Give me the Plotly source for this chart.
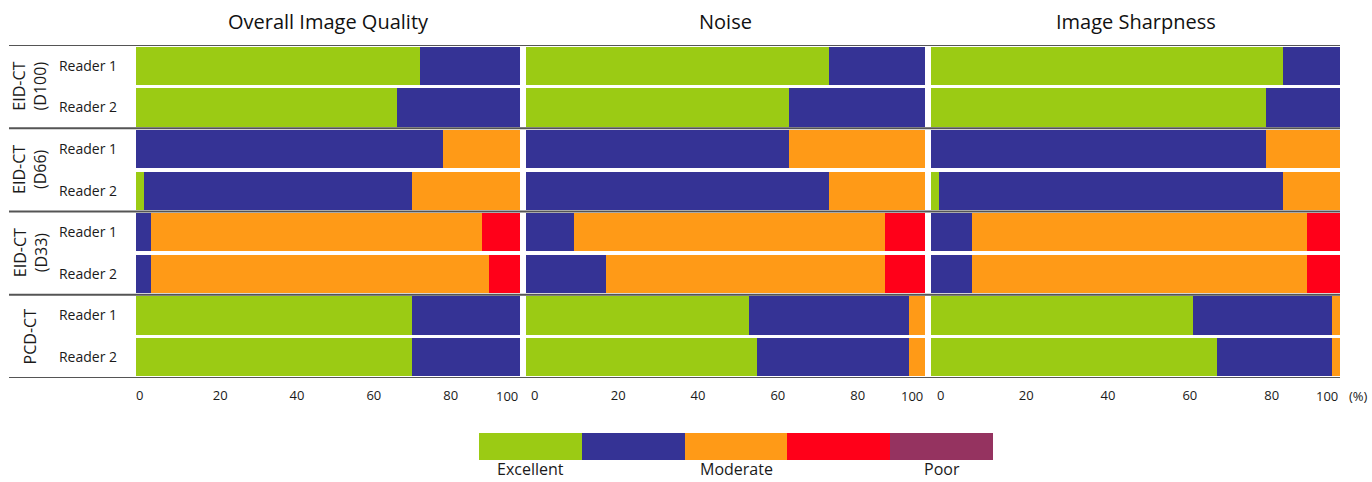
import plotly.graph_objects as go

# ---------------- data ----------------
panels = ["Overall Image Quality", "Noise", "Image Sharpness"]
groups = ["EID-CT<br>(D100)", "EID-CT<br>(D66)", "EID-CT<br>(D33)", "PCD-CT"]
readers = ["Reader 1", "Reader 2"]
categories = ["Excellent", "Good", "Moderate", "Fair", "Poor"]
colors = ["#9BCB14", "#353395", "#FF9A17", "#FF0019", "#953360"]

# rows: D100 R1, D100 R2, D66 R1, D66 R2, D33 R1, D33 R2, PCD R1, PCD R2
quality_excellent = [74, 68, 0, 2, 0, 0, 72, 72]
quality_good      = [26, 32, 80, 70, 4, 4, 28, 28]
quality_moderate  = [0, 0, 20, 28, 86, 88, 0, 0]
quality_fair      = [0, 0, 0, 0, 10, 8, 0, 0]
quality_poor      = [0, 0, 0, 0, 0, 0, 0, 0]

noise_excellent = [76, 66, 0, 0, 0, 0, 56, 58]
noise_good      = [24, 34, 66, 76, 12, 20, 40, 38]
noise_moderate  = [0, 0, 34, 24, 78, 70, 4, 4]
noise_fair      = [0, 0, 0, 0, 10, 10, 0, 0]
noise_poor      = [0, 0, 0, 0, 0, 0, 0, 0]

sharp_excellent = [86, 82, 0, 2, 0, 0, 64, 70]
sharp_good      = [14, 18, 82, 84, 10, 10, 34, 28]
sharp_moderate  = [0, 0, 18, 14, 82, 82, 2, 2]
sharp_fair      = [0, 0, 0, 0, 8, 8, 0, 0]
sharp_poor      = [0, 0, 0, 0, 0, 0, 0, 0]

panel_data = [
    [quality_excellent, quality_good, quality_moderate, quality_fair, quality_poor],
    [noise_excellent, noise_good, noise_moderate, noise_fair, noise_poor],
    [sharp_excellent, sharp_good, sharp_moderate, sharp_fair, sharp_poor],
]

tick_vals = [0, 20, 40, 60, 80]
legend_labels = {"Excellent": 0, "Moderate": 2, "Poor": 4}

# ---------------- figure ----------------
W, H = 1372, 482
ML, MR, MT, MB = 136, 32, 45, 20
PW, PH = W - ML - MR, H - MT - MB


def px_x(p):
    return (p - ML) / PW


def px_y(p):
    return (H - MB - p) / PH


FONT = "Open Sans"
row_y = list(range(len(groups) * len(readers)))
row_text = [r for _ in groups for r in readers]

x_domains = [(px_x(136), px_x(520)), (px_x(526), px_x(925)), (px_x(931), 1.0)]
y_domain = (px_y(378), 1.0)

fig = go.Figure()
for pi, series in enumerate(panel_data):
    xa = "x" if pi == 0 else f"x{pi+1}"
    for ci, vals in enumerate(series):
        fig.add_trace(go.Bar(
            y=row_y, x=vals, orientation="h", xaxis=xa, yaxis="y",
            marker=dict(color=colors[ci], line=dict(width=0)),
            name=categories[ci], showlegend=False, hoverinfo="x+name",
        ))

# legend bar as its own small axis
for ci, cat in enumerate(categories):
    fig.add_trace(go.Bar(
        y=[0], x=[1], orientation="h", xaxis="x4", yaxis="y4",
        marker=dict(color=colors[ci], line=dict(width=0)),
        name=cat, showlegend=False, hoverinfo="name",
    ))

layout = dict(
    width=W, height=H, barmode="stack", bargap=0.08,
    margin=dict(l=ML, r=MR, t=MT, b=MB),
    plot_bgcolor="white", paper_bgcolor="white",
    font=dict(family=FONT, size=13, color="#1a1a1a"),
    yaxis=dict(domain=y_domain, range=[7.5, -0.5], tickvals=row_y, ticktext=row_text,
               showgrid=False, zeroline=False, ticks="", ticklabelstandoff=18,
               tickfont=dict(size=14)),
    xaxis4=dict(domain=(px_x(479), px_x(993)), range=[0, 5], visible=False, anchor="y4"),
    yaxis4=dict(domain=(px_y(461), px_y(432)), range=[-0.5, 0.5], visible=False, anchor="x4"),
)
label_shift = [0, 5, 6]
for pi in range(3):
    key = "xaxis" if pi == 0 else f"xaxis{pi+1}"
    layout[key] = dict(domain=x_domains[pi], range=[0, 100], anchor="y",
                       tickvals=tick_vals, ticks="", showgrid=False, zeroline=False,
                       ticklabelposition="outside right", ticklabelstandoff=8,
                       ticklabelshift=label_shift[pi],
                       tickfont=dict(size=13))
fig.update_layout(**layout)

annotations = []
shapes = []
for pi in range(3):
    xa = "x" if pi == 0 else f"x{pi+1}"
    annotations.append(dict(text=panels[pi], x=sum(x_domains[pi]) / 2, y=px_y(22),
                            xref="paper", yref="paper", showarrow=False,
                            xanchor="center", yanchor="middle",
                            font=dict(size=20, family=FONT, color="#111")))
    annotations.append(dict(text="100", x=100, xref=xa, y=px_y(396), yref="paper",
                            xanchor="right", yanchor="middle", showarrow=False,
                            font=dict(size=13)))
annotations.append(dict(text="(%)", x=px_x(1358), y=px_y(396), xref="paper", yref="paper",
                        xanchor="center", yanchor="middle",
                        showarrow=False, font=dict(size=13)))

for gi, g in enumerate(groups):
    yc = gi * len(readers) + (len(readers) - 1) / 2
    annotations.append(dict(text=g, x=px_x(30), xref="paper", y=yc, yref="y",
                            xanchor="center", yanchor="middle",
                            textangle=-90, showarrow=False, font=dict(size=16),
                            align="center"))
for gi in range(len(groups) + 1):
    yb = gi * len(readers) - 0.5
    shapes.append(dict(type="line", xref="paper", yref="y", x0=px_x(9), x1=1.0,
                       y0=yb, y1=yb, line=dict(color="#555555", width=2), layer="above"))

for lab, idx in legend_labels.items():
    annotations.append(dict(text=lab, x=idx + 0.5, xref="x4", y=px_y(469), yref="paper",
                            xanchor="center", yanchor="middle",
                            showarrow=False, font=dict(size=16)))

fig.update_layout(annotations=annotations, shapes=shapes)
fig.write_html("out.html",
               config={"displayModeBar": False},
               post_script="document.body.style.margin='0px';document.body.style.overflow='hidden';")
